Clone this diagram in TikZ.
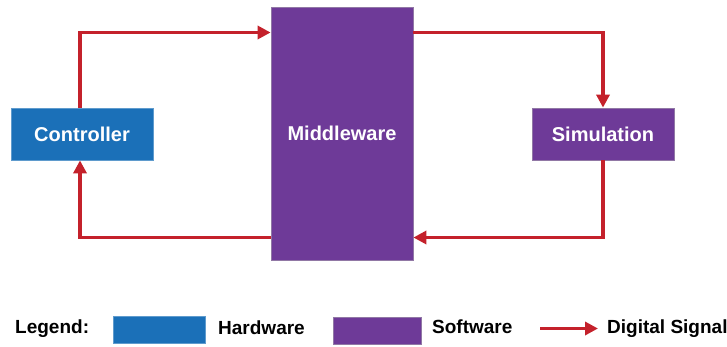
\documentclass[tikz,border=0pt]{standalone}
\usepackage{fontspec}
\setmainfont{Liberation Sans}
\usetikzlibrary{arrows.meta,calc}
\definecolor{hwblue}{HTML}{1B70B8}
\definecolor{swpurple}{HTML}{6E3A98}
\definecolor{sigred}{HTML}{C4212B}
\begin{document}
\begin{tikzpicture}[x=1pt,y=-1pt,
  box/.style={rectangle, inner sep=0pt, text=white, font=\fontsize{20}{24}\selectfont\bfseries},
  hw/.style={box, fill=hwblue, draw=hwblue!70!white, line width=0.8pt},
  sw/.style={box, fill=swpurple, draw=swpurple!60!gray!80!white, line width=0.8pt},
  sig/.style={draw=sigred, line width=3.6pt, -{Triangle[length=13pt,width=13pt]}},
  leg/.style={anchor=west, inner sep=0pt, font=\fontsize{19}{22}\selectfont\bfseries}]
\useasboundingbox (0,0) rectangle (727,346);
\fill[white] (0,0) rectangle (727,346);
\node[hw, minimum width=142pt, minimum height=52pt] (ctrl) at (82,134) {Controller};
\node[sw, minimum width=142pt, minimum height=253pt] (mw) at (342,133.5) {Middleware};
\node[sw, minimum width=142pt, minimum height=52pt] (sim) at (603,134) {Simulation};
\coordinate (ytop) at (0,32.5);
\coordinate (ybot) at (0,237.5);
\draw[sig] ([xshift=-2pt]ctrl.north) |- (mw.west |- ytop);
\draw[sig] (mw.east |- ytop) -| (sim.north);
\draw[sig] (sim.south) |- (mw.east |- ybot);
\draw[sig] (mw.west |- ybot) -| ([xshift=-2pt]ctrl.south);
% legend
\node[leg] (lg) at (15,329) {Legend:};
\node[hw, minimum width=92pt, minimum height=27pt] (lhw) at (159,329.5) {};
\node[leg] (lhwt) at (218,328) {Hardware};
\node[sw, minimum width=88pt, minimum height=27pt] (lsw) at (377,331) {};
\node[leg] (lswt) at (432,327) {Software};
\coordinate (la) at (540,328.5);
\coordinate (lb) at (598,328.5);
\draw[sig] (la) -- (lb);
\node[leg] (lds) at (607,329) {Digital Signal};
\end{tikzpicture}
\end{document}
